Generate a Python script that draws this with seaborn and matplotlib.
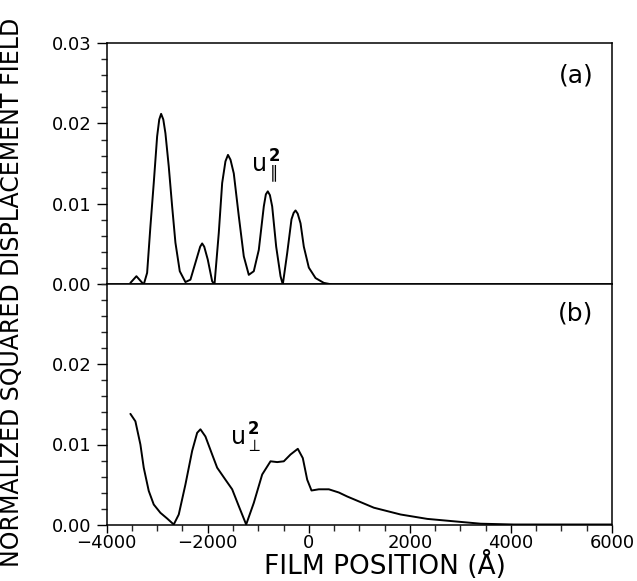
import matplotlib
matplotlib.use("Agg")
import matplotlib.pyplot as plt
import seaborn as sns
import pandas as pd
from matplotlib.ticker import MultipleLocator, FixedLocator, FixedFormatter

# ---- data ----
top_x = [-3531, -3412, -3267, -3200, -3135, -3069, -3002, -2960, -2923, -2880, -2838, -2772,
         -2705, -2640, -2554, -2442, -2343, -2244, -2150, -2111, -2070, -2000, -1913, -1867,
         -1782, -1715, -1650, -1600, -1550, -1485, -1386, -1287, -1188, -1089, -990, -891,
         -850, -812, -770, -725, -646, -560, -515, -428, -343, -300, -263, -220, -164, -99,
         0, 133, 297, 463, 6000]
top_y = [0.0002, 0.00103, 0.0, 0.00145, 0.0072, 0.0126, 0.0184, 0.0205, 0.0212, 0.0205, 0.0188, 0.01467,
         0.0097, 0.0052, 0.00165, 0.0003, 0.0006, 0.0027, 0.0047, 0.0051, 0.0047, 0.0031, 0.0004, 0.0,
         0.0064, 0.0126, 0.0153, 0.0161, 0.0155, 0.0138, 0.0085, 0.0035, 0.0012, 0.00165, 0.0043, 0.0097,
         0.0112, 0.01157, 0.0111, 0.0097, 0.0047, 0.00103, 0.0, 0.0039, 0.0081, 0.0089, 0.0092, 0.0088, 0.0076, 0.0047,
         0.0021, 0.0008, 0.0002, 0.0, 0.0]

bot_x = [-3531, -3432, -3333, -3267, -3168, -3069, -2937, -2804, -2673, -2574,
         -2442, -2309, -2210, -2145, -2046, -1913, -1814, -1650, -1517, -1386,
         -1240, -1089, -923, -758, -626, -495, -362, -218, -119, -32,
         53, 198, 396, 594, 760, 1287, 1816, 2345, 2871, 3400, 4053, 6000]
bot_y = [0.01383, 0.0129, 0.0100, 0.0071, 0.0042, 0.0025, 0.00146, 0.00075, 0.0, 0.00125,
         0.0050, 0.0092, 0.01146, 0.0119, 0.0110, 0.00875, 0.0071, 0.0056, 0.0044, 0.0023,
         0.0, 0.0027, 0.00625, 0.0079, 0.0078, 0.0079, 0.00875, 0.00946, 0.0083, 0.0056,
         0.00425, 0.0044, 0.0044, 0.0040, 0.0035, 0.0021, 0.00125, 0.0007, 0.0004, 0.0001, 0.0, 0.0]

x_ticks = [-4000, -2000, 0, 2000, 4000, 6000]
x_ticklabels = ["\u22124000", "\u22122000", "0", "2000", "4000", "6000"]
top_yticks = [0.00, 0.01, 0.02, 0.03]
top_yticklabels = ["0.00", "0.01", "0.02", "0.03"]
bot_yticks = [0.00, 0.01, 0.02]
bot_yticklabels = ["0.00", "0.01", "0.02"]

ylabel = "NORMALIZED SQUARED DISPLACEMENT FIELD"
xlabel = "FILM POSITION (\u00c5)"

# ---- styling ----
sns.set_style("ticks")
plt.rcParams['font.family'] = ['DejaVu Sans']
plt.rcParams['mathtext.fontset'] = 'dejavusans'
plt.rcParams['text.color'] = 'black'

W, H = 637, 581
fig = plt.figure(figsize=(W / 100, H / 100), dpi=100)
left, right = 106.7, 612.0
y_top, y_mid, y_bot = 43.0, 284.5, 524.5
ax1 = fig.add_axes([left / W, 1 - y_mid / H, (right - left) / W, (y_mid - y_top) / H])
ax2 = fig.add_axes([left / W, 1 - y_bot / H, (right - left) / W, (y_bot - y_mid) / H])

df_top = pd.DataFrame({"x": top_x, "y": top_y})
df_bot = pd.DataFrame({"x": bot_x, "y": bot_y})
sns.lineplot(data=df_top, x="x", y="y", ax=ax1, color="black", lw=1.4, estimator=None)
sns.lineplot(data=df_bot, x="x", y="y", ax=ax2, color="black", lw=1.4, estimator=None)

for ax in (ax1, ax2):
    ax.set_xlim(-4000, 6000)
    ax.set_ylim(0, 0.03)
    ax.set_xlabel("")
    ax.set_ylabel("")
    for s in ax.spines.values():
        s.set_visible(True)
        s.set_linewidth(1.1)
        s.set_color("black")
    ax.yaxis.set_minor_locator(MultipleLocator(0.002))
    ax.tick_params(axis="y", which="major", direction="out", length=7, width=1.0,
                   labelsize=13, pad=4, colors="black", right=False)
    ax.tick_params(axis="y", which="minor", direction="out", length=4, width=1.0, right=False)
    ax.tick_params(axis="x", top=False)

ax1.yaxis.set_major_locator(FixedLocator(top_yticks))
ax1.yaxis.set_major_formatter(FixedFormatter(top_yticklabels))
ax2.yaxis.set_major_locator(FixedLocator(bot_yticks))
ax2.yaxis.set_major_formatter(FixedFormatter(bot_yticklabels))

ax1.tick_params(axis="x", which="both", bottom=False, labelbottom=False)
ax2.xaxis.set_major_locator(FixedLocator(x_ticks))
ax2.xaxis.set_major_formatter(FixedFormatter(x_ticklabels))
ax2.xaxis.set_minor_locator(MultipleLocator(500))
ax2.tick_params(axis="x", which="major", direction="out", length=6, width=1.0,
                labelsize=13, pad=1, colors="black")
ax2.tick_params(axis="x", which="minor", direction="out", length=4, width=1.0)

# panel labels and curve labels
fig.text(576 / W, 1 - 76 / H, "(a)", fontsize=18, ha="center", va="center", color="black")
fig.text(576 / W, 1 - 313 / H, "(b)", fontsize=18, ha="center", va="center", color="black")
fig.text(266 / W, 1 - 167 / H, r"$\mathrm{u}_{\parallel}^{\,\mathbf{2}}$", fontsize=17,
         ha="center", va="center", color="black")
fig.text(246 / W, 1 - 438 / H, r"$\mathrm{u}_{\perp}^{\,\mathbf{2}}$", fontsize=17,
         ha="center", va="center", color="black")

fig.text(12 / W, 1 - 292 / H, ylabel, fontsize=17, rotation=90, ha="center", va="center",
         color="black")
fig.text(385 / W, 1 - 574 / H, xlabel, fontsize=19, ha="center", va="baseline", color="black")

fig.savefig("out.png", dpi=100)
